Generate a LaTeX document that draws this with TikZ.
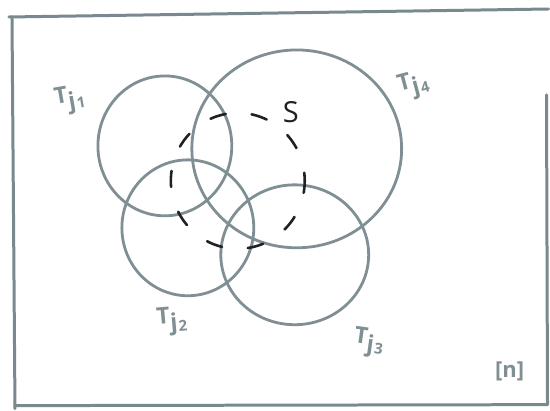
\documentclass[tikz,border=0pt]{standalone}
\usepackage{fontspec}
\setmainfont{Open Sans}
\usetikzlibrary{positioning}
\definecolor{sketchGrey}{HTML}{7F8F94}
\definecolor{sketchFrame}{HTML}{798A8F}
\definecolor{sketchInk}{HTML}{1E2224}
\newcommand{\tj}[1]{T\raisebox{-7pt}{j}\kern1pt\raisebox{-8pt}{\fontsize{15}{15}\selectfont #1}}
\begin{document}
\begin{tikzpicture}[x=1pt,y=-1pt,line cap=round,line join=round]
\path[fill=white] (0,0) rectangle (550,409);
\tikzset{frame/.style={draw=sketchFrame,line width=3pt},setline/.style={draw=sketchGrey,line width=2.8pt},subset/.style={draw=sketchInk,line width=2.6pt,dash pattern=on 16pt off 26pt,dash phase=4pt},tlabel/.style={text=sketchGrey,font=\fontsize{23}{23}\selectfont\bfseries}}
% outer box [n]
\draw[frame] (9,17) -- (549,9);
\draw[frame] (12,17) -- (15,409);
\draw[frame] (15,406) -- (548,405);
\draw[frame] (547,95) -- (548,405);
% the four sets
\draw[setline] (165,146) ellipse [x radius=67,y radius=70];
\draw[setline] (297,149) ellipse [x radius=105,y radius=99];
\draw[setline] (188,228) ellipse [x radius=66,y radius=68];
\draw[setline] (295,255) ellipse [x radius=74,y radius=70];
% S
\draw[subset] (238,181) ellipse [x radius=67,y radius=68];
\node[tlabel,rotate=10] (tj1) at (70,100) {\tj{1}};
\node[tlabel,rotate=15] (tj4) at (414,86) {\tj{4}};
\node[tlabel,rotate=5] (tj2) at (172,322) {\tj{2}};
\node[tlabel,rotate=-8] (tj3) at (369,343) {\tj{3}};
\node[text=sketchInk,font=\fontsize{29}{29}\selectfont] (s) at (291,112) {S};
\node[text=sketchGrey,font=\fontsize{22}{22}\selectfont\bfseries] (n) at (510,372) {[n]};
\end{tikzpicture}
\end{document}
